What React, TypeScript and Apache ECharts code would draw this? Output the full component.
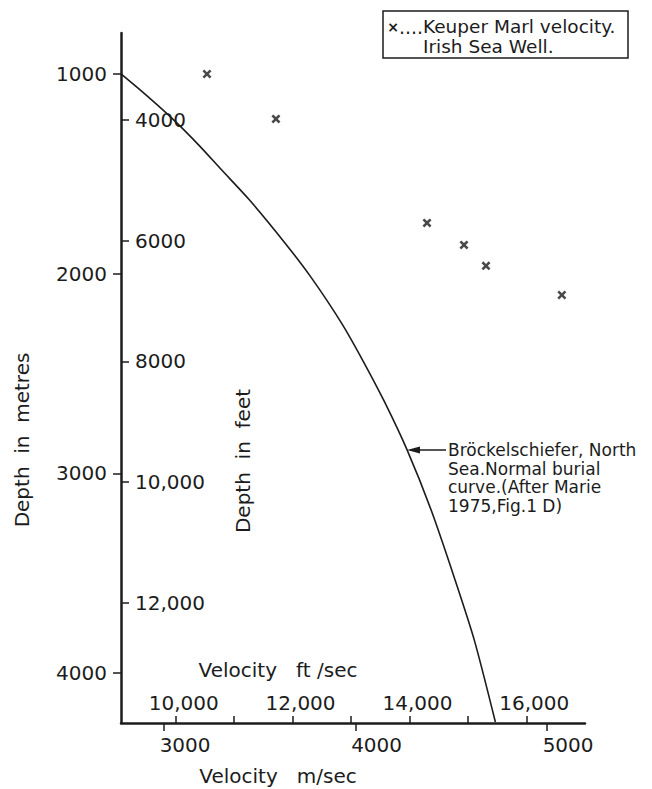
import React, { useEffect, useRef } from "react";
import * as echarts from "echarts";

// Normal burial curve (Bröckelschiefer, North Sea) – velocity m/s vs depth m
const curveVelocityMs = [2775, 2905, 3050, 3180, 3300, 3445, 3630, 3765, 3925, 4035, 4150, 4270, 4395, 4520, 4620, 4730];
const curveDepthM = [1000, 1105, 1230, 1355, 1480, 1630, 1845, 2015, 2245, 2430, 2640, 2885, 3185, 3535, 3835, 4245];

// Keuper Marl velocity, Irish Sea Well
const wellVelocityMs = [3224, 3584, 4373, 4566, 4681, 5077];
const wellDepthM = [1000, 1225, 1746, 1856, 1961, 2107];

// Tick values
const metreTicks = [1000, 2000, 3000, 4000];
const feetTicks = [4000, 6000, 8000, 10000, 12000];
const msTicks = [3000, 4000, 5000];
const ftsTicks = [10000, 11000, 12000, 13000, 14000, 15000, 16000];
const ftsLabels = [10000, 12000, 14000, 16000];

const legendLines = ["Keuper Marl velocity.", "Irish Sea Well."];
const annotationLines = [
  "Bröckelschiefer, North",
  "Sea.Normal burial",
  "curve.(After Marie",
  "1975,Fig.1 D)",
];

const INK = "#1c1c1c";
const FONT = "DejaVu Sans";

const fmt = (v: number) =>
  v >= 10000 ? String(Math.floor(v / 1000)) + "," + String(v % 1000).padStart(3, "0") : String(v);

export default function App() {
  const ref = useRef<HTMLDivElement>(null);

  useEffect(() => {
    if (!ref.current) return;
    const chart = echarts.init(ref.current, undefined, { renderer: "svg" });

    const crossPath =
      "path://M0,2 L2,0 L5,3 L8,0 L10,2 L7,5 L10,8 L8,10 L5,7 L2,10 L0,8 L3,5 Z";

    const labelBase = { fontFamily: FONT, fontSize: 20, color: INK };

    const option: any = {
      animation: false,
      backgroundColor: "#ffffff",
      grid: { left: 121, top: 33, right: 67, bottom: 66, containLabel: false },
      xAxis: [
        {
          type: "value",
          position: "bottom",
          min: 2775,
          max: 5198,
          axisLine: { show: true, onZero: false, lineStyle: { color: INK, width: 2.5 } },
          axisTick: { show: true, length: 8, customValues: msTicks, lineStyle: { color: INK, width: 1.5 } },
          axisLabel: {
            ...labelBase,
            customValues: msTicks,
            margin: 12,
            padding: [0, 0, 0, 42],
            formatter: (v: number) => String(v),
          },
          splitLine: { show: false },
        },
        {
          type: "value",
          position: "bottom",
          min: 9064,
          max: 17005,
          axisLine: { show: false, onZero: false },
          axisTick: { show: true, inside: true, length: 7, customValues: ftsTicks, lineStyle: { color: INK, width: 1.5 } },
          axisLabel: {
            ...labelBase,
            inside: true,
            customValues: ftsLabels,
            margin: 10,
            padding: [0, 0, 0, 16],
            formatter: (v: number) => fmt(v),
          },
          splitLine: { show: false },
        },
      ],
      yAxis: [
        {
          type: "value",
          inverse: true,
          position: "left",
          min: 795,
          max: 4250,
          axisLine: { show: true, onZero: false, lineStyle: { color: INK, width: 2.5 } },
          axisTick: { show: true, length: 8, customValues: metreTicks, lineStyle: { color: INK, width: 1.5 } },
          axisLabel: { ...labelBase, customValues: metreTicks, margin: 14, formatter: (v: number) => String(v) },
          splitLine: { show: false },
        },
        {
          type: "value",
          inverse: true,
          position: "left",
          min: 2559,
          max: 13988,
          axisLine: { show: false, onZero: false },
          axisTick: { show: true, inside: true, length: 8, customValues: feetTicks, lineStyle: { color: INK, width: 1.5 } },
          axisLabel: { ...labelBase, inside: true, customValues: feetTicks, margin: 14, formatter: (v: number) => fmt(v) },
          splitLine: { show: false },
        },
      ],
      series: [
        {
          name: "Normal burial curve",
          type: "line",
          xAxisIndex: 0,
          yAxisIndex: 0,
          data: curveVelocityMs.map((v, i) => [v, curveDepthM[i]]),
          showSymbol: false,
          smooth: 0.25,
          lineStyle: { color: INK, width: 1.6 },
          z: 3,
        },
        {
          name: "Keuper Marl velocity",
          type: "scatter",
          xAxisIndex: 0,
          yAxisIndex: 0,
          data: wellVelocityMs.map((v, i) => [v, wellDepthM[i]]),
          symbol: crossPath,
          symbolSize: 9,
          itemStyle: { color: INK },
          z: 4,
        },
      ],
      graphic: [
        // Legend box
        {
          type: "rect",
          shape: { x: 383, y: 11, width: 245, height: 47 },
          style: { fill: "none", stroke: INK, lineWidth: 1.5 },
        },
        {
          type: "text",
          x: 393,
          y: 27,
          style: { text: "×", font: `bold 14px ${FONT}`, fill: INK, align: "center", verticalAlign: "middle" },
        },
        {
          type: "text",
          x: 399,
          y: 27,
          style: { text: "....", font: `19px ${FONT}`, fill: INK, align: "left", verticalAlign: "middle" },
        },
        {
          type: "text",
          x: 423,
          y: 16,
          style: {
            text: legendLines.join("\n"),
            font: `18.5px ${FONT}`,
            lineHeight: 20,
            fill: INK,
            align: "left",
            verticalAlign: "top",
          },
        },
        // Axis titles
        {
          type: "text",
          x: 22,
          y: 440,
          rotation: Math.PI / 2,
          style: { text: "Depth  in  metres", font: `20px ${FONT}`, fill: INK, align: "center", verticalAlign: "middle" },
        },
        {
          type: "text",
          x: 243,
          y: 461,
          rotation: Math.PI / 2,
          style: { text: "Depth  in  feet", font: `20px ${FONT}`, fill: INK, align: "center", verticalAlign: "middle" },
        },
        {
          type: "text",
          x: 278,
          y: 670,
          style: { text: "Velocity   ft /sec", font: `20px ${FONT}`, fill: INK, align: "center", verticalAlign: "middle" },
        },
        {
          type: "text",
          x: 278,
          y: 776,
          style: { text: "Velocity   m/sec", font: `20px ${FONT}`, fill: INK, align: "center", verticalAlign: "middle" },
        },
        // Annotation arrow
        {
          type: "line",
          shape: { x1: 418, y1: 450, x2: 446, y2: 450 },
          style: { stroke: INK, lineWidth: 1.5 },
        },
        {
          type: "polygon",
          shape: { points: [[407, 450], [420, 446.5], [420, 453.5]] },
          style: { fill: INK },
        },
        {
          type: "text",
          x: 448,
          y: 441,
          style: {
            text: annotationLines.join("\n"),
            font: `17px ${FONT}`,
            lineHeight: 18.5,
            fill: INK,
            align: "left",
            verticalAlign: "top",
          },
        },
      ],
    };

    chart.setOption(option);
    return () => chart.dispose();
  }, []);

  return (
    <div
      ref={ref}
      style={{ position: "absolute", left: 0, top: 0, width: 652, height: 789, background: "#fff" }}
    />
  );
}
